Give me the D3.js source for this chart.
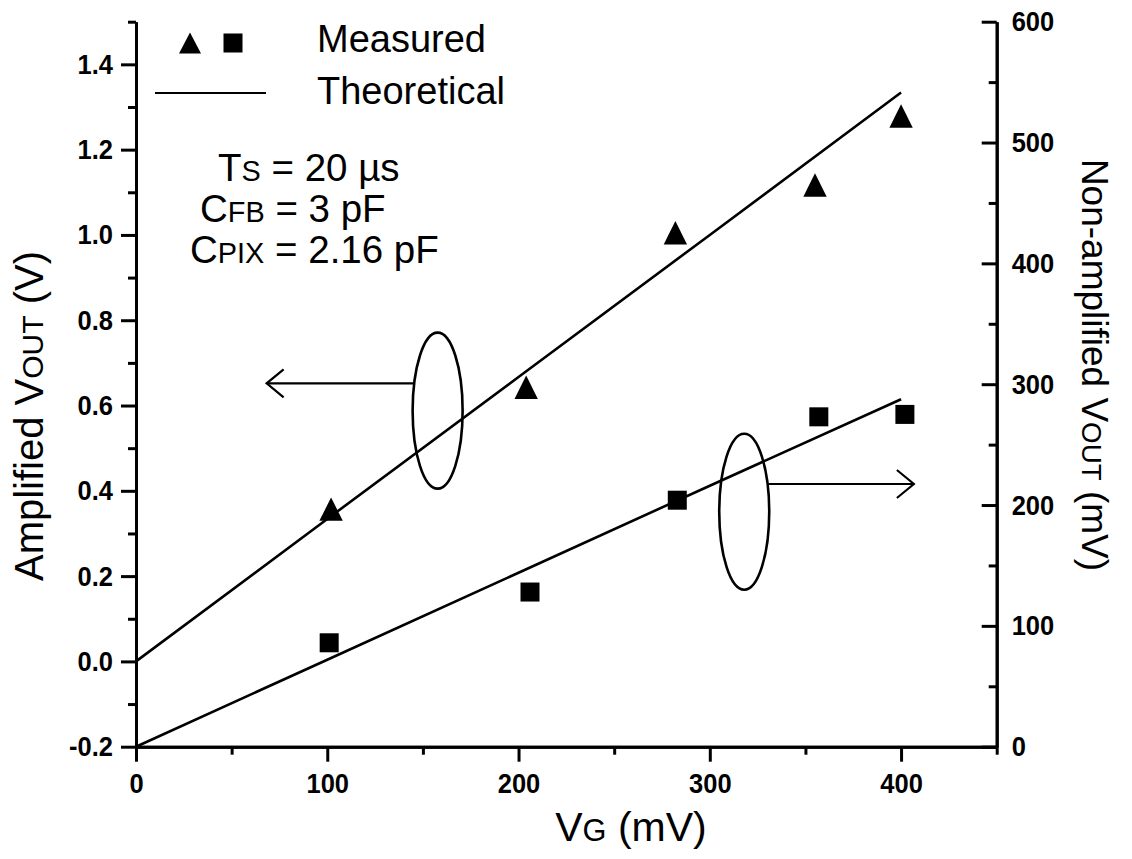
<!DOCTYPE html>
<html>
<head>
<meta charset="utf-8">
<script src="https://cdn.jsdelivr.net/npm/d3@7"></script>
<style>
  body { margin: 0; background: #fff; }
  text { font-family: "Liberation Sans", Arial, sans-serif; fill: #000; }
</style>
</head>
<body>
<svg id="chart" width="1132" height="859"></svg>
<script>
'use strict';

// measured, amplified output (left axis, V)
const ampVg = [102, 204, 282, 355, 400];
const ampMeasured = [0.357, 0.643, 1.005, 1.117, 1.279];
// measured, non-amplified output (right axis, mV)
const nonVg = [101, 206, 283, 357, 402];
const nonMeasured = [86, 128, 204, 273, 275];
// theoretical curves
const theoryVg = [0, 100, 200, 300, 400];
const ampTheory = [0, 0.334, 0.667, 1.0, 1.334];
const nonTheory = [0, 72, 144, 216, 287.5];

const xTicks = [0, 100, 200, 300, 400];
const xMinor = [50, 150, 250, 350, 450];
const leftTicks = [-0.2, 0, 0.2, 0.4, 0.6, 0.8, 1.0, 1.2, 1.4];
const leftMinor = [-0.1, 0.1, 0.3, 0.5, 0.7, 0.9, 1.1, 1.3, 1.5];
const rightTicks = [0, 100, 200, 300, 400, 500, 600];
const rightMinor = [50, 150, 250, 350, 450, 550];

const svg = d3.select("#chart");
const margin = { top: 21.7, left: 136, right: 135.3, bottom: 112.3 };
const width = 1132 - margin.left - margin.right;
const height = 859 - margin.top - margin.bottom;

const x = d3.scaleLinear().domain([0, 450]).range([margin.left, margin.left + width]);
const yL = d3.scaleLinear().domain([-0.2, 1.5]).range([margin.top + height, margin.top]);
const yR = d3.scaleLinear().domain([0, 600]).range([margin.top + height, margin.top]);

const FONT = '"Liberation Sans", Arial, sans-serif';

function styleAxis(g) {
  g.attr("font-family", FONT).attr("font-size", 28).attr("font-weight", "bold");
  g.selectAll("path, line").attr("stroke", "#000").attr("stroke-width", 3);
  // squeeze the digits a little, they are narrow in the original
  g.selectAll("text").attr("fill", "#000").each(function () {
    const w = this.getComputedTextLength();
    if (w > 0) {
      d3.select(this).attr("textLength", w * 0.91).attr("lengthAdjust", "spacingAndGlyphs");
    }
  });
}

// minor ticks first
svg.append("g")
  .attr("transform", `translate(0, ${margin.top + height})`)
  .call(d3.axisBottom(x).tickValues(xMinor).tickSizeInner(8).tickSizeOuter(0).tickFormat(""))
  .call(styleAxis);
svg.append("g")
  .attr("transform", `translate(${margin.left}, 0)`)
  .call(d3.axisLeft(yL).tickValues(leftMinor).tickSizeInner(8).tickSizeOuter(0).tickFormat(""))
  .call(styleAxis);
svg.append("g")
  .attr("transform", `translate(${margin.left + width}, 0)`)
  .call(d3.axisRight(yR).tickValues(rightMinor).tickSizeInner(-8).tickSizeOuter(0).tickFormat(""))
  .call(styleAxis);

// major ticks
svg.append("g")
  .attr("transform", `translate(0, ${margin.top + height})`)
  .call(d3.axisBottom(x).tickValues(xTicks).tickSizeInner(15).tickSizeOuter(0).tickPadding(11)
    .tickFormat(function (d) { return d; }))
  .call(styleAxis);
svg.append("g")
  .attr("transform", `translate(${margin.left}, 0)`)
  .call(d3.axisLeft(yL).tickValues(leftTicks).tickSizeInner(15).tickSizeOuter(0).tickPadding(8)
    .tickFormat(function (d) { return d.toFixed(1); }))
  .call(styleAxis);
svg.append("g")
  .attr("transform", `translate(${margin.left + width}, 0)`)
  .call(d3.axisRight(yR).tickValues(rightTicks).tickSizeInner(-15).tickSizeOuter(0).tickPadding(15)
    .tickFormat(function (d) { return d; }))
  .call(styleAxis);

// theoretical lines
const ampLine = d3.line().x(function (d, i) { return x(theoryVg[i]); }).y(function (d) { return yL(d); });
const nonLine = d3.line().x(function (d, i) { return x(theoryVg[i]); }).y(function (d) { return yR(d); });
svg.append("path").datum(ampTheory).attr("d", ampLine)
  .attr("fill", "none").attr("stroke", "#000").attr("stroke-width", 2.6);
svg.append("path").datum(nonTheory).attr("d", nonLine)
  .attr("fill", "none").attr("stroke", "#000").attr("stroke-width", 2.6);

// markers
const triPath = "M0,-11.7L11.7,11.7L-11.7,11.7Z";
svg.selectAll(".tri")
  .data(ampMeasured)
  .enter().append("path")
    .attr("class", "tri")
    .attr("d", triPath)
    .attr("transform", function (d, i) { return `translate(${x(ampVg[i])}, ${yL(d)})`; })
    .attr("fill", "#000");
svg.selectAll(".sq")
  .data(nonMeasured)
  .enter().append("rect")
    .attr("class", "sq")
    .attr("x", function (d, i) { return x(nonVg[i]) - 9.5; })
    .attr("y", function (d) { return yR(d) - 9.5; })
    .attr("width", 19)
    .attr("height", 19)
    .attr("fill", "#000");

// ellipses with arrows, anchored in data coordinates
function ellipseArrow(cx, cy, tipX, tipY, yScale, dir) {
  const ex = x(cx), ey = yScale(cy);
  const tx = x(tipX), ty = yScale(tipY);
  svg.append("ellipse")
    .attr("cx", ex).attr("cy", ey).attr("rx", 25).attr("ry", 78)
    .attr("fill", "none").attr("stroke", "#000").attr("stroke-width", 2.6);
  const startX = ex + dir * 24;
  svg.append("line")
    .attr("x1", startX).attr("y1", ty).attr("x2", tx).attr("y2", ty)
    .attr("stroke", "#000").attr("stroke-width", 2.2);
  svg.append("polyline")
    .attr("points", `${tx - dir * 17},${ty - 14} ${tx},${ty} ${tx - dir * 17},${ty + 14}`)
    .attr("fill", "none").attr("stroke", "#000").attr("stroke-width", 2.2);
}
ellipseArrow(157.7, 0.588, 68.3, 0.652, yL, -1);
ellipseArrow(318, 194.5, 406.7, 217.4, yR, 1);

// text helper with small-cap subscripts
function richText(parent, parts, size) {
  const t = parent.append("text").attr("font-size", size);
  parts.forEach(function (p) {
    t.append("tspan")
      .attr("font-size", p[1] ? size * 0.75 : size)
      .text(p[0]);
  });
  return t;
}

// axis titles
richText(svg, [["Amplified V"], ["OUT", true], [" (V)"]], 40)
  .attr("text-anchor", "middle")
  .attr("transform", "translate(43, 416) rotate(-90)");
richText(svg, [["Non-amplified V"], ["OUT", true], [" (mV)"]], 37)
  .attr("text-anchor", "middle")
  .attr("transform", "translate(1082, 365) rotate(90)");
richText(svg, [["V"], ["G", true], [" (mV)"]], 41)
  .attr("text-anchor", "middle")
  .attr("x", 631).attr("y", 841);

// legend
const legend = svg.append("g");
legend.append("path").attr("d", "M0,-10.5L11,10.5L-11,10.5Z")
  .attr("transform", "translate(190, 43)").attr("fill", "#000");
legend.append("rect").attr("x", 223.5).attr("y", 33.5).attr("width", 19).attr("height", 19).attr("fill", "#000");
legend.append("line").attr("x1", 155).attr("x2", 266).attr("y1", 93).attr("y2", 93)
  .attr("stroke", "#000").attr("stroke-width", 2.2);
legend.append("text").attr("x", 317).attr("y", 52).attr("font-size", 38).text("Measured");
legend.append("text").attr("x", 317).attr("y", 104).attr("font-size", 38).text("Theoretical");

// operating conditions
richText(svg, [["T"], ["S", true], [" = 20 \u00b5s"]], 38.5).attr("x", 218).attr("y", 181);
richText(svg, [["C"], ["FB", true], [" = 3 pF"]], 38.5).attr("x", 200).attr("y", 222);
richText(svg, [["C"], ["PIX", true], [" = 2.16 pF"]], 38.5).attr("x", 190).attr("y", 263);
</script>
</body>
</html>
